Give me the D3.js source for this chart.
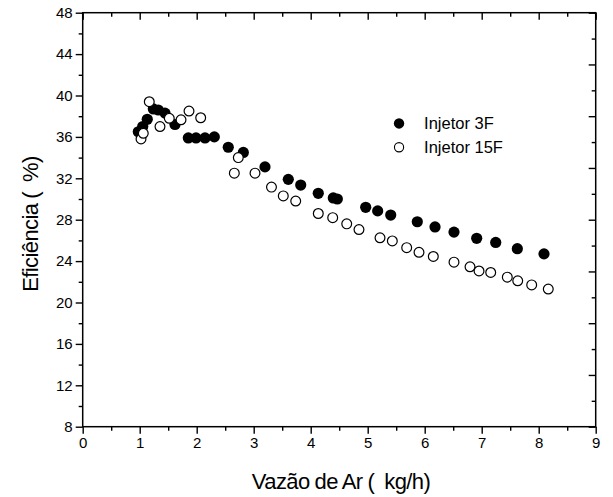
<!DOCTYPE html>
<html>
<head>
<meta charset="utf-8">
<script src="https://cdn.jsdelivr.net/npm/d3@7"></script>
<style>
  html, body { margin: 0; padding: 0; background: #fff; }
  svg { display: block; font-family: "Liberation Sans", Arial, sans-serif; }
  .title { white-space: pre; }
</style>
</head>
<body>
<svg id="chart" width="613" height="497"></svg>
<script>
// Air flow rate (kg/h) and efficiency (%) for each injector
const inj3F_x = [0.975, 1.053, 1.133, 1.239, 1.326, 1.444, 1.619, 1.853, 1.988, 2.146, 2.309,
                 2.554, 2.818, 3.198, 3.607, 3.825, 4.133, 4.396, 4.467, 4.965, 5.175, 5.404,
                 5.870, 6.181, 6.514, 6.912, 7.246, 7.625, 8.093];
const inj3F_y = [36.5, 37.0, 37.7, 38.7, 38.6, 38.3, 37.2, 35.9, 35.9, 35.9, 36.0,
                 35.0, 34.5, 33.1, 31.9, 31.35, 30.55, 30.1, 30.0, 29.2, 28.85, 28.45,
                 27.8, 27.3, 26.8, 26.2, 25.8, 25.2, 24.7];

const inj15F_x = [1.023, 1.063, 1.168, 1.356, 1.519, 1.725, 1.865, 2.070, 2.660, 2.730,
                  3.023, 3.312, 3.519, 3.737, 4.133, 4.386, 4.632, 4.847, 5.216, 5.432,
                  5.684, 5.900, 6.151, 6.514, 6.795, 6.953, 7.158, 7.449, 7.632, 7.877, 8.168];
const inj15F_y = [35.8, 36.35, 39.4, 37.0, 37.8, 37.65, 38.5, 37.85, 32.5, 34.0,
                  32.5, 31.15, 30.3, 29.8, 28.6, 28.2, 27.6, 27.05, 26.25, 25.95,
                  25.3, 24.85, 24.45, 23.9, 23.45, 23.05, 22.9, 22.45, 22.1, 21.7, 21.3];

const seriesNames = ["Injetor 3F", "Injetor 15F"];
const xTicks = [0, 1, 2, 3, 4, 5, 6, 7, 8, 9];
const yTicks = [8, 12, 16, 20, 24, 28, 32, 36, 40, 44, 48];
const xTitle = "Vazão de Ar (  kg/h)";
const yTitle = "Eficiência (  %)";

const svg = d3.select("#chart");
const plotLeft = 82.7, plotRight = 595.7, plotTop = 12.7, plotBottom = 426.7;

const x = d3.scaleLinear().domain([0, 9]).range([plotLeft, plotRight]);
const y = d3.scaleLinear().domain([8, 48]).range([plotBottom, plotTop]);

const xMinor = d3.range(0.5, 9, 1);
const yMinor = d3.range(10, 48, 4);
const rightTicks = d3.range(0, 17).map(i => 8 + i * 2.5);

function styleAxis(g) {
  g.select(".domain").remove();
  g.selectAll(".tick line").attr("stroke", "#000").attr("stroke-width", 1.4);
  g.selectAll(".tick text").attr("fill", "#000").style("font-size", "15px");
}

// bottom axis: outward ticks with labels
svg.append("g").attr("transform", `translate(0,${plotBottom})`)
  .call(d3.axisBottom(x).tickValues(xTicks).tickSize(7).tickPadding(4).tickFormat(d3.format("d")))
  .call(styleAxis);
svg.append("g").attr("transform", `translate(0,${plotBottom})`)
  .call(d3.axisBottom(x).tickValues(xMinor).tickSize(4).tickFormat(""))
  .call(styleAxis);

// left axis: outward ticks with labels
svg.append("g").attr("transform", `translate(${plotLeft},0)`)
  .call(d3.axisLeft(y).tickValues(yTicks).tickSize(7).tickPadding(3).tickFormat(d3.format("d")))
  .call(styleAxis);
svg.append("g").attr("transform", `translate(${plotLeft},0)`)
  .call(d3.axisLeft(y).tickValues(yMinor).tickSize(4).tickFormat(""))
  .call(styleAxis);

// top axis: inward ticks, no labels
svg.append("g").attr("transform", `translate(0,${plotTop})`)
  .call(d3.axisBottom(x).tickValues(xTicks).tickSize(7).tickFormat(""))
  .call(styleAxis);
svg.append("g").attr("transform", `translate(0,${plotTop})`)
  .call(d3.axisBottom(x).tickValues(xMinor).tickSize(4).tickFormat(""))
  .call(styleAxis);

// right axis: inward ticks, no labels
svg.append("g").attr("transform", `translate(${plotRight},0)`)
  .call(d3.axisLeft(y).tickValues(rightTicks.filter((d, i) => i % 2 === 0)).tickSize(7).tickFormat(""))
  .call(styleAxis);
svg.append("g").attr("transform", `translate(${plotRight},0)`)
  .call(d3.axisLeft(y).tickValues(rightTicks.filter((d, i) => i % 2 === 1)).tickSize(4).tickFormat(""))
  .call(styleAxis);

// frame
svg.append("rect")
  .attr("x", plotLeft).attr("y", plotTop)
  .attr("width", plotRight - plotLeft).attr("height", plotBottom - plotTop)
  .attr("fill", "none").attr("stroke", "#000").attr("stroke-width", 1.5);

// Injetor 3F: filled circles
svg.append("g").selectAll("circle")
  .data(d3.zip(inj3F_x, inj3F_y))
  .join("circle")
  .attr("cx", d => x(d[0])).attr("cy", d => y(d[1]))
  .attr("r", 5.6).attr("fill", "#000");

// Injetor 15F: open circles
svg.append("g").selectAll("circle")
  .data(d3.zip(inj15F_x, inj15F_y))
  .join("circle")
  .attr("cx", d => x(d[0])).attr("cy", d => y(d[1]))
  .attr("r", 4.9).attr("fill", "#fff").attr("stroke", "#000").attr("stroke-width", 1.2);

// legend
const legend = svg.append("g");
const legendRows = [
  { name: seriesNames[0], filled: true, lx: 5.55, ly: 37.3 },
  { name: seriesNames[1], filled: false, lx: 5.55, ly: 35.0 }
];
legendRows.forEach(r => {
  legend.append("circle")
    .attr("cx", x(r.lx)).attr("cy", y(r.ly))
    .attr("r", r.filled ? 5.2 : 4.6)
    .attr("fill", r.filled ? "#000" : "#fff")
    .attr("stroke", "#000").attr("stroke-width", r.filled ? 0 : 1.1);
  legend.append("text")
    .attr("x", x(r.lx) + 25).attr("y", y(r.ly))
    .attr("dy", "0.36em")
    .style("font-size", "16.5px")
    .text(r.name);
});

// axis titles (tight letter and word spacing)
svg.append("text")
  .attr("class", "title")
  .attr("x", 341).attr("y", 489)
  .attr("text-anchor", "middle")
  .style("font-size", "22px").style("letter-spacing", "-0.6px").style("word-spacing", "-0.5px")
  .text(xTitle);

svg.append("text")
  .attr("class", "title")
  .attr("transform", `translate(38,224) rotate(-90)`)
  .attr("text-anchor", "middle")
  .style("font-size", "22px").style("letter-spacing", "-0.6px").style("word-spacing", "-0.5px")
  .text(yTitle);
</script>
</body>
</html>
